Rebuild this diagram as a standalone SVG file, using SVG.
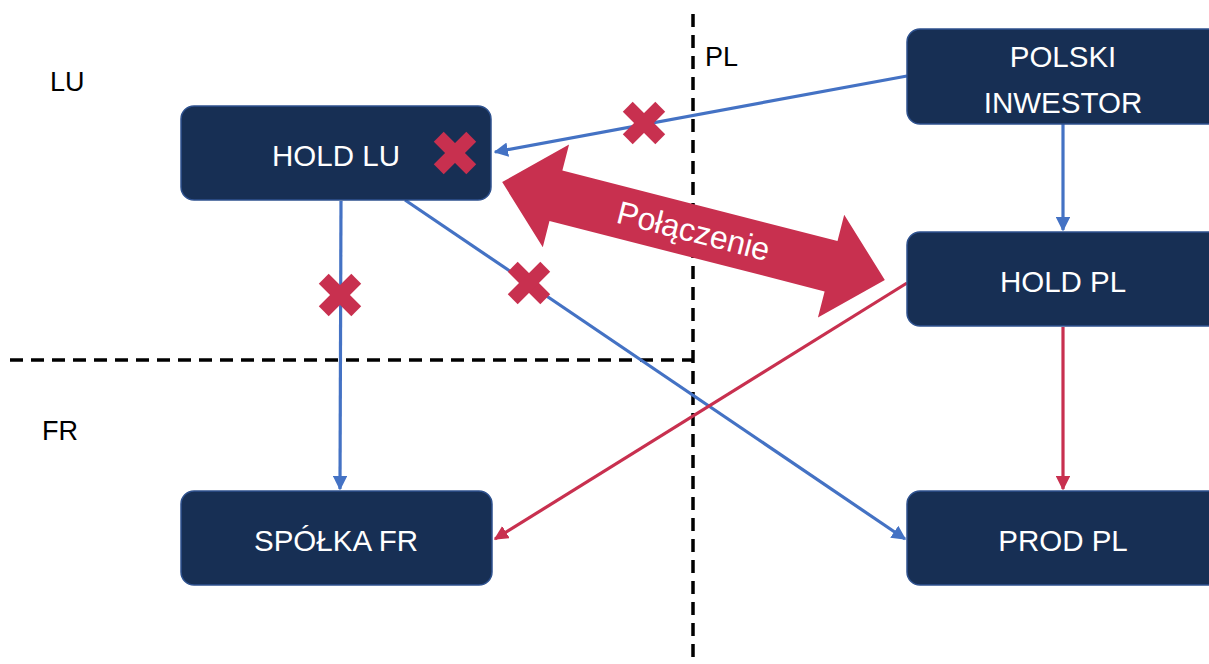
<svg xmlns="http://www.w3.org/2000/svg" width="1209" height="664" viewBox="0 0 1209 664">
  <style>
    .node rect { fill: #172F54; stroke: #2F528F; stroke-width: 1.5; }
    .node text { fill: #FFFFFF; font-family: "Liberation Sans", Arial, sans-serif; font-size: 29.5px; text-anchor: middle; }
    .region { fill: #000000; font-family: "Liberation Sans", Arial, sans-serif; font-size: 27px; }
    .border { stroke: #000000; stroke-width: 3.5; stroke-dasharray: 13 8; fill: none; }
    .blue { stroke: #4472C4; stroke-width: 3.2; fill: none; marker-end: url(#arrowBlue); }
    .red { stroke: #C8304F; stroke-width: 3.2; fill: none; marker-end: url(#arrowRed); }
    .cross { fill: #C8304F; }
  </style>
  <defs>
    <marker id="arrowBlue" viewBox="0 0 10 10" refX="9" refY="5" markerWidth="4.5" markerHeight="4.5" orient="auto">
      <path d="M0,0 L10,5 L0,10 z" fill="#4472C4"/>
    </marker>
    <marker id="arrowRed" viewBox="0 0 10 10" refX="9" refY="5" markerWidth="4.5" markerHeight="4.5" orient="auto">
      <path d="M0,0 L10,5 L0,10 z" fill="#C8304F"/>
    </marker>
    <g id="cross">
      <rect x="-23" y="-7" width="46" height="14" transform="rotate(45)"/>
      <rect x="-23" y="-7" width="46" height="14" transform="rotate(-45)"/>
    </g>
  </defs>

  <rect width="1209" height="664" fill="#FFFFFF"/>

  <!-- jurisdiction borders -->
  <g id="borders">
    <line class="border" x1="693" y1="14" x2="693" y2="664"/>
    <line class="border" x1="10" y1="360" x2="693" y2="360"/>
  </g>

  <!-- jurisdiction labels -->
  <g id="labels">
    <text class="region" x="50" y="91">LU</text>
    <text class="region" x="42" y="440">FR</text>
    <text class="region" x="705" y="66">PL</text>
  </g>

  <!-- merger arrow -->
  <g id="merger" transform="translate(693.5,231) rotate(14.35)">
    <polygon fill="#C8304F" points="-197.5,0 -142,-53 -142,-26 142,-26 142,-53 197.5,0 142,53 142,26 -142,26 -142,53"/>
    <text x="0" y="11" fill="#FFFFFF" font-family="Liberation Sans, Arial, sans-serif" font-size="32" text-anchor="middle">Połączenie</text>
  </g>

  <!-- connectors -->
  <g id="connectors">
    <line class="blue" x1="907" y1="76" x2="495" y2="152"/>
    <line class="blue" x1="1063" y1="124" x2="1063" y2="230"/>
    <line class="blue" x1="341" y1="201" x2="340" y2="489"/>
    <line class="blue" x1="405" y1="200" x2="905" y2="539"/>
    <line class="red" x1="907" y1="283" x2="495" y2="539"/>
    <line class="red" x1="1063" y1="327" x2="1063" y2="489"/>
  </g>

  <!-- nodes -->
  <g id="hold-lu" class="node">
    <rect x="181" y="106" width="310" height="94" rx="13"/>
    <text x="336" y="166">HOLD LU</text>
  </g>
  <g id="polski-inwestor" class="node">
    <rect x="907" y="29" width="314" height="95" rx="13"/>
    <text x="1063" y="67">POLSKI</text>
    <text x="1063" y="113">INWESTOR</text>
  </g>
  <g id="hold-pl" class="node">
    <rect x="907" y="232" width="314" height="94" rx="13"/>
    <text x="1063" y="292">HOLD PL</text>
  </g>
  <g id="spolka-fr" class="node">
    <rect x="181" y="491" width="311" height="94" rx="13"/>
    <text x="336" y="551">SPÓŁKA FR</text>
  </g>
  <g id="prod-pl" class="node">
    <rect x="907" y="491" width="314" height="94" rx="13"/>
    <text x="1063" y="551">PROD PL</text>
  </g>

  <!-- blocked-relation marks -->
  <g id="marks" class="cross">
    <use href="#cross" x="644" y="123"/>
    <use href="#cross" x="455" y="153"/>
    <use href="#cross" x="340" y="295"/>
    <use href="#cross" x="529" y="283"/>
  </g>
</svg>
